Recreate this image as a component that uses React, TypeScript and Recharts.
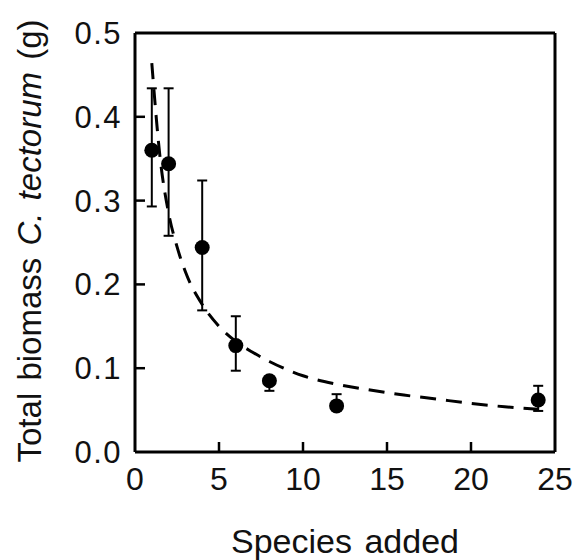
import { ComposedChart, Line, Scatter, XAxis, YAxis, ErrorBar } from 'recharts';

const speciesAdded = [1, 2, 4, 6, 8, 12, 24];
const biomass = [0.36, 0.344, 0.244, 0.127, 0.085, 0.055, 0.062];
const errLow = [0.293, 0.258, 0.169, 0.097, 0.073, 0.05, 0.049];
const errHigh = [0.434, 0.434, 0.324, 0.162, 0.09, 0.069, 0.079];

// dashed fitted curve
const fitX = [1, 1.5, 2, 2.5, 3, 4, 5, 6, 7, 8, 10, 12, 14, 16, 18, 20, 22, 24];
const fitY = [0.464, 0.35, 0.285, 0.245, 0.215, 0.176, 0.15, 0.132, 0.119, 0.108, 0.091, 0.081, 0.074, 0.068, 0.063, 0.058, 0.054, 0.051];

const xTicks = [0, 5, 10, 15, 20, 25];
const yTicks = [0, 0.1, 0.2, 0.3, 0.4, 0.5];

const FONT = '"Liberation Sans", Arial, Helvetica, sans-serif';

const points = speciesAdded.map((x, i) => ({
  x,
  y: biomass[i],
  err: [biomass[i] - errLow[i], errHigh[i] - biomass[i]],
}));
const fit = fitX.map((x, i) => ({ x, y: fitY[i] }));

const BottomTick = (props: any) => {
  const { x, y, payload } = props;
  const v = payload.value;
  return (
    <g>
      {v > 0 && v < 25 && <line x1={x} y1={y} x2={x} y2={y - 10} stroke="#000" strokeWidth={2.5} />}
      <text x={x} y={y + 38} textAnchor="middle" fontSize={32} fontFamily={FONT} fill="#111">
        {v}
      </text>
    </g>
  );
};

const TopTick = (props: any) => {
  const { x, y, payload } = props;
  const v = payload.value;
  if (v <= 0 || v >= 25) return <g />;
  return <line x1={x} y1={y} x2={x} y2={y + 10} stroke="#000" strokeWidth={2.5} />;
};

const LeftTick = (props: any) => {
  const { x, y, payload } = props;
  const v = payload.value;
  return (
    <g>
      {v > 0 && v < 0.5 && <line x1={x} y1={y} x2={x + 10} y2={y} stroke="#000" strokeWidth={2.5} />}
      <text
        x={x - 13}
        y={y + 11}
        textAnchor="end"
        fontSize={31}
        letterSpacing={1.5}
        fontFamily={FONT}
        fill="#111"
      >
        {v.toFixed(1)}
      </text>
    </g>
  );
};

const RightTick = (props: any) => {
  const { x, y, payload } = props;
  const v = payload.value;
  if (v <= 0 || v >= 0.5) return <g />;
  return <line x1={x} y1={y} x2={x - 10} y2={y} stroke="#000" strokeWidth={2.5} />;
};

const Dot = (props: any) => <circle cx={props.cx} cy={props.cy} r={7.5} fill="#000" />;

const axisLine = { stroke: '#000', strokeWidth: 3 };

export default function App() {
  return (
    <div style={{ position: 'absolute', left: 0, top: 0, background: '#fff' }}>
      <ComposedChart width={576} height={560} margin={{ top: 0, right: 0, bottom: 0, left: 0 }}>
        <XAxis
          xAxisId={0}
          dataKey="x"
          type="number"
          domain={[0, 25]}
          ticks={xTicks}
          height={108}
          tickSize={0}
          tickMargin={0}
          tickLine={false}
          axisLine={axisLine}
          tick={<BottomTick />}
        />
        <XAxis
          xAxisId="top"
          orientation="top"
          type="number"
          domain={[0, 25]}
          ticks={xTicks}
          height={33}
          tickSize={0}
          tickMargin={0}
          tickLine={false}
          axisLine={axisLine}
          tick={<TopTick />}
        />
        <YAxis
          yAxisId={0}
          type="number"
          domain={[0, 0.5]}
          ticks={yTicks}
          width={135}
          tickSize={0}
          tickMargin={0}
          tickLine={false}
          axisLine={axisLine}
          tick={<LeftTick />}
        />
        <YAxis
          yAxisId="right"
          orientation="right"
          type="number"
          domain={[0, 0.5]}
          ticks={yTicks}
          width={21}
          tickSize={0}
          tickMargin={0}
          tickLine={false}
          axisLine={axisLine}
          tick={<RightTick />}
        />
        <Line
          data={fit}
          dataKey="y"
          type="monotone"
          stroke="#000"
          strokeWidth={3}
          strokeDasharray="16 10"
          dot={false}
          activeDot={false}
          isAnimationActive={false}
        />
        <Scatter data={points} dataKey="y" shape={<Dot />} isAnimationActive={false}>
          <ErrorBar dataKey="err" direction="y" width={5} stroke="#000" strokeWidth={2} isAnimationActive={false} />
        </Scatter>
        <text
          transform="translate(29, 241) rotate(-90)"
          textAnchor="middle"
          dominantBaseline="central"
          fontSize={33}
          fontFamily={FONT}
          fill="#111"
          wordSpacing={3}
        >
          Total biomass <tspan fontStyle="italic">C. tectorum</tspan> (g)
        </text>
        <text x={345} y={553} textAnchor="middle" fontSize={34} fontFamily={FONT} fill="#111" wordSpacing={3}>
          Species added
        </text>
      </ComposedChart>
    </div>
  );
}
